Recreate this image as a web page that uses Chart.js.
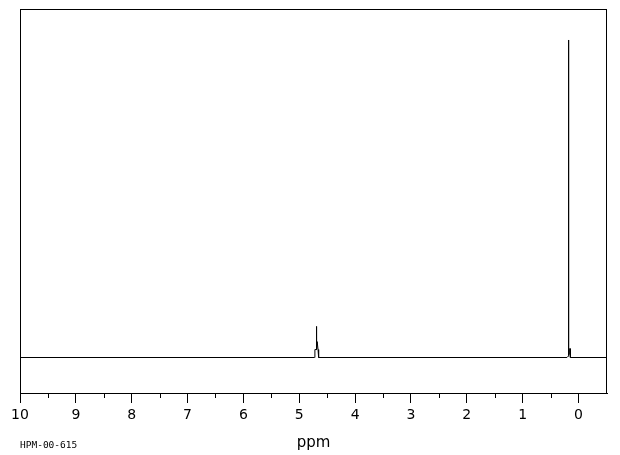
<!DOCTYPE html>
<html>
<head>
<meta charset="utf-8">
<script src="https://cdn.jsdelivr.net/npm/chart.js@4/dist/chart.umd.min.js"></script>
<style>
	body { margin: 0; background: white; }
	#wrap { width: 620px; height: 455px; }
</style>
</head>
<body>
<div id="wrap"><canvas id="myChart" width="620" height="455"></canvas></div>
<script>

// spectrum (ppm / relative intensity)
const shifts    = [10, 4.729, 4.720, 4.694, 4.691, 4.691, 4.688, 4.679, 4.672, 4.664, 4.656, 4.650, 0.207, 0.187, 0.179, 0.179, 0.173, 0.163, 0.157, 0.152, 0.146, -0.51]
const intensity = [0,  0,     0.025, 0.025, 0.098, 0.025, 0.025, 0.050, 0.050, 0.025, 0.025, 0,     0,     0.004, 1.0,   0.006, 0.008, 0.012, 0.028, 0.028, 0,     0]

const majorTicks = [0, 1, 2, 3, 4, 5, 6, 7, 8, 9, 10]
const minorTicks = [0.5, 1.5, 2.5, 3.5, 4.5, 5.5, 6.5, 7.5, 8.5, 9.5]

const axisLabel = 'ppm'
const sampleId  = 'HPM-00-615'

const lineColor = 'black'

// frame, minor ticks and sample id
const extras = {
	id: 'extras',
	afterDraw(chart) {
		const ctx = chart.ctx
		const area = chart.chartArea
		const xs = chart.scales.x
		ctx.save()
		ctx.strokeStyle = lineColor
		ctx.lineWidth = 1
		ctx.strokeRect(area.left + 0.5, area.top + 0.5, area.right - area.left - 1, area.bottom - area.top)
		ctx.beginPath()
		for (const v of minorTicks) {
			const px = Math.round(xs.getPixelForValue(v)) + 0.5
			ctx.moveTo(px, area.bottom)
			ctx.lineTo(px, area.bottom + 5)
		}
		ctx.stroke()
		ctx.fillStyle = lineColor
		ctx.font = '9.5px "DejaVu Sans Mono"'
		ctx.textBaseline = 'alphabetic'
		ctx.textAlign = 'left'
		ctx.fillText(sampleId, area.left, 448)
		ctx.restore()
	}
}

const ctx = document.getElementById('myChart').getContext('2d')
const chart = new Chart(ctx, {
	type: 'line',
	data: {
		datasets: [{
			data: shifts.map((x, i) => ({ x: x, y: intensity[i] })),
			borderColor: lineColor,
			borderWidth: 1,
			pointRadius: 0,
			tension: 0,
			fill: false
		}]
	},
	options: {
		responsive: false,
		animation: false,
		devicePixelRatio: 1,
		layout: {
			padding: { left: 20, right: 13, top: 9, bottom: 3.2 }
		},
		scales: {
			x: {
				type: 'linear',
				reverse: true,
				min: -0.51,
				max: 10,
				afterBuildTicks: scale => { scale.ticks = majorTicks.map(v => ({ value: v })) },
				ticks: {
					color: lineColor,
					padding: 4,
					maxRotation: 0,
					autoSkip: false,
					font: { family: 'DejaVu Sans', size: 14 },
					callback: v => String(v)
				},
				grid: {
					drawOnChartArea: false,
					tickLength: 10,
					tickColor: lineColor,
					tickWidth: 1
				},
				border: { display: true, color: lineColor, width: 1 },
				title: {
					display: true,
					text: axisLabel,
					color: lineColor,
					padding: { top: 6, bottom: 0 },
					font: { family: 'DejaVu Sans', size: 15 }
				}
			},
			y: {
				display: false,
				min: -0.1118,
				max: 1.0976
			}
		},
		plugins: {
			legend: { display: false },
			tooltip: { enabled: false }
		}
	},
	plugins: [extras]
})

</script>
</body>
</html>
